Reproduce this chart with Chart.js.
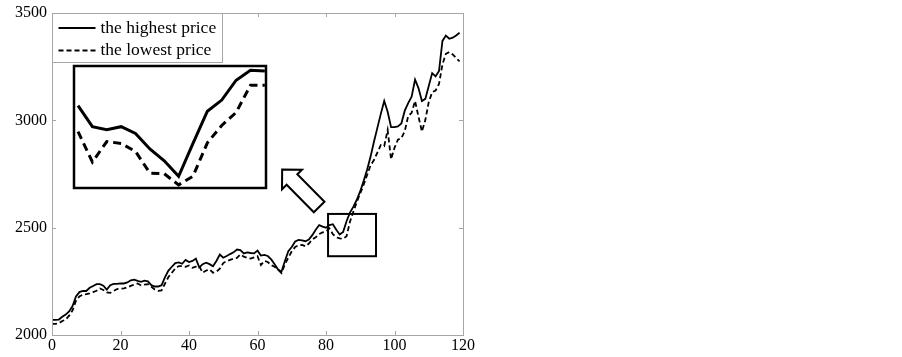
<!DOCTYPE html>
<html><head><meta charset="utf-8">
<script src="https://cdn.jsdelivr.net/npm/chart.js@4.4.1/dist/chart.umd.min.js"></script>
<style>
html,body{margin:0;padding:0;background:#fff;}
#wrap{position:relative;width:902px;height:357px;overflow:hidden;}
#main{position:absolute;left:0;top:0;}
#inset{position:absolute;left:72px;top:64px;}
</style></head><body>
<div id="wrap"><canvas id="main" width="902" height="357"></canvas><canvas id="inset" width="196" height="126"></canvas></div>
<script>
// ---- data ----
const seriesNames = ['the highest price', 'the lowest price'];
const days = Array.from({length: 120}, (_, i) => i);
const highPrice = [
 2070,2070,2072,2085,2095,2110,2135,2180,2200,2205,
 2205,2220,2228,2237,2237,2230,2212,2232,2238,2238,
 2240,2240,2245,2255,2258,2252,2248,2253,2250,2232,
 2226,2226,2232,2270,2300,2318,2335,2338,2332,2350,
 2340,2345,2356,2315,2330,2337,2330,2320,2345,2375,
 2360,2368,2377,2385,2398,2395,2380,2385,2382,2380,
 2393,2370,2373,2368,2352,2330,2305,2295,2345,2390,
 2410,2436,2443,2441,2437,2445,2465,2490,2512,2505,
 2500,2512,2516,2490,2468,2480,2530,2570,2598,2630,
 2670,2718,2770,2830,2900,2965,3030,3090,3040,2968,
 2968,2972,2985,3045,3080,3110,3190,3150,3090,3100,
 3160,3220,3205,3230,3370,3395,3380,3385,3395,3408
];
const lowPrice = [
 2052,2052,2055,2065,2072,2090,2115,2160,2180,2188,
 2190,2194,2200,2206,2217,2210,2198,2196,2205,2214,
 2215,2217,2222,2229,2235,2240,2231,2235,2237,2225,
 2212,2206,2208,2240,2270,2290,2310,2321,2321,2318,
 2324,2313,2318,2321,2290,2300,2306,2290,2295,2309,
 2335,2344,2350,2355,2359,2375,2365,2359,2356,2362,
 2367,2326,2345,2340,2325,2318,2305,2288,2330,2360,
 2390,2410,2418,2420,2413,2426,2445,2455,2470,2478,
 2482,2497,2470,2455,2450,2448,2460,2528,2575,2620,
 2660,2700,2745,2790,2815,2850,2885,2880,2955,2818,
 2872,2910,2917,2950,3020,3035,3090,3017,2948,3001,
 3085,3131,3139,3170,3260,3310,3318,3307,3290,3275
];
// magnified detail shown in the inset
const insetSteps = [0,1,2,3,4,5,6,7,8,9,10,11,12,13];
const insetHigh = [2500,2466,2461,2466,2455,2430,2411,2386,2439,2491,2509,2541,2557,2556];
const insetLow  = [2458,2409,2442,2439,2426,2391,2390,2372,2386,2440,2468,2489,2533,2533];
const xTicks = [0,20,40,60,80,100,120];
const yTicks = [2000,2500,3000,3500];

// annotation placement in data units
const zoomBox = {x0: 80.6, x1: 94.6, y0: 2367, y1: 2564};
const arrow = {tailX: 78, tailY: 2596, tipX: 67.2, tipY: 2771};

const FONT = "'Liberation Serif','Times New Roman',serif";
const AXIS_GRAY = '#a6a6a6';

const framePlugin = {
  id: 'frame',
  afterDraw(chart) {
    const ctx = chart.ctx;
    const {left, right, top, bottom} = chart.chartArea;
    const xs = chart.scales.x, ys = chart.scales.y;
    ctx.save();
    // axes box
    ctx.strokeStyle = AXIS_GRAY;
    ctx.lineWidth = 1;
    ctx.strokeRect(Math.round(left) + 0.5, Math.round(top) + 0.5, Math.round(right - left), Math.round(bottom - top));
    // inward ticks
    ctx.beginPath();
    xTicks.forEach(v => {
      const px = Math.round(xs.getPixelForValue(v)) + 0.5;
      ctx.moveTo(px, bottom); ctx.lineTo(px, bottom - 4);
      ctx.moveTo(px, top); ctx.lineTo(px, top + 4);
    });
    yTicks.forEach(v => {
      const py = Math.round(ys.getPixelForValue(v)) + 0.5;
      ctx.moveTo(left, py); ctx.lineTo(left + 4, py);
      ctx.moveTo(right, py); ctx.lineTo(right - 4, py);
    });
    ctx.stroke();

    // legend
    const lx = Math.round(left) + 0.5, ly = Math.round(top) + 0.5;
    ctx.fillStyle = '#fff';
    ctx.fillRect(lx, ly, 170, 49);
    ctx.strokeStyle = AXIS_GRAY;
    ctx.strokeRect(lx, ly, 170, 49);
    ctx.strokeStyle = '#000';
    ctx.lineWidth = 2;
    const rows = [ly + 14.5, ly + 37];
    [[], [5, 3]].forEach((dash, k) => {
      ctx.setLineDash(dash);
      ctx.beginPath();
      ctx.moveTo(lx + 6, rows[k]); ctx.lineTo(lx + 43, rows[k]);
      ctx.stroke();
    });
    ctx.setLineDash([]);
    ctx.fillStyle = '#000';
    ctx.font = '17.5px ' + FONT;
    ctx.textBaseline = 'middle';
    ctx.textAlign = 'left';
    seriesNames.forEach((t, k) => ctx.fillText(t, lx + 48, rows[k]));

    // zoom box
    ctx.lineWidth = 2;
    const bx0 = xs.getPixelForValue(zoomBox.x0), bx1 = xs.getPixelForValue(zoomBox.x1);
    const by0 = ys.getPixelForValue(zoomBox.y1), by1 = ys.getPixelForValue(zoomBox.y0);
    ctx.strokeRect(bx0, by0, bx1 - bx0, by1 - by0);

    // hollow arrow
    const tx = xs.getPixelForValue(arrow.tailX), ty = ys.getPixelForValue(arrow.tailY);
    const hx = xs.getPixelForValue(arrow.tipX), hy = ys.getPixelForValue(arrow.tipY);
    const len = Math.hypot(hx - tx, hy - ty);
    const dx = (hx - tx) / len, dy = (hy - ty) / len;
    const nx = -dy, ny = dx;
    const headLen = 14, headHalf = 14, shaftHalf = 7.5;
    const bxm = hx - dx * headLen, bym = hy - dy * headLen;
    const pts = [
      [tx + nx * shaftHalf, ty + ny * shaftHalf],
      [bxm + nx * shaftHalf, bym + ny * shaftHalf],
      [bxm + nx * headHalf, bym + ny * headHalf],
      [hx, hy],
      [bxm - nx * headHalf, bym - ny * headHalf],
      [bxm - nx * shaftHalf, bym - ny * shaftHalf],
      [tx - nx * shaftHalf, ty - ny * shaftHalf]
    ];
    ctx.beginPath();
    pts.forEach((p, i) => i ? ctx.lineTo(p[0], p[1]) : ctx.moveTo(p[0], p[1]));
    ctx.closePath();
    ctx.fillStyle = '#fff';
    ctx.fill();
    ctx.lineJoin = 'miter';
    ctx.stroke();
    ctx.restore();
  }
};

const plainLabel = v => String(v);

new Chart(document.getElementById('main'), {
  type: 'line',
  data: {
    datasets: [
      {label: seriesNames[0], data: days.map((d, i) => ({x: d, y: highPrice[i]})),
       borderColor: '#000', borderWidth: 1.8, pointRadius: 0, tension: 0, fill: false},
      {label: seriesNames[1], data: days.map((d, i) => ({x: d, y: lowPrice[i]})),
       borderColor: '#000', borderWidth: 1.8, borderDash: [5, 3], pointRadius: 0, tension: 0, fill: false}
    ]
  },
  options: {
    responsive: false, animation: false, devicePixelRatio: 1,
    layout: {padding: {top: 8, right: 439, left: 0, bottom: 0}},
    plugins: {legend: {display: false}, tooltip: {enabled: false}},
    scales: {
      x: {type: 'linear', min: 0, max: 120,
          afterBuildTicks(s) { s.ticks = xTicks.map(v => ({value: v})); },
          ticks: {color: '#000', padding: 3, maxRotation: 0, callback: plainLabel,
                  font: {family: FONT, size: 16, lineHeight: 1}},
          grid: {display: false, drawTicks: false}, border: {display: false},
          afterFit(s) { s.height = 22; }},
      y: {type: 'linear', min: 2000, max: 3500,
          afterBuildTicks(s) { s.ticks = yTicks.map(v => ({value: v})); },
          ticks: {color: '#000', padding: 5, callback: plainLabel,
                  font: {family: FONT, size: 16, lineHeight: 1}},
          grid: {display: false, drawTicks: false}, border: {display: false},
          afterFit(s) { s.width = 52; }}
    }
  },
  plugins: [framePlugin]
});

const insetFrame = {
  id: 'insetFrame',
  beforeDraw(chart) {
    const c = chart.ctx; c.save(); c.fillStyle = '#fff';
    c.fillRect(0, 0, chart.width, chart.height); c.restore();
  },
  afterDraw(chart) {
    const {left, right, top, bottom} = chart.chartArea;
    const c = chart.ctx; c.save();
    c.strokeStyle = '#000'; c.lineWidth = 2.5;
    c.strokeRect(left, top, right - left, bottom - top);
    c.restore();
  }
};

new Chart(document.getElementById('inset'), {
  type: 'line',
  data: {
    datasets: [
      {data: insetSteps.map((s, i) => ({x: s, y: insetHigh[i]})), borderColor: '#000', borderWidth: 3,
       pointRadius: 0, tension: 0, fill: false},
      {data: insetSteps.map((s, i) => ({x: s, y: insetLow[i]})), borderColor: '#000', borderWidth: 3,
       borderDash: [8, 5], pointRadius: 0, tension: 0, fill: false}
    ]
  },
  options: {
    responsive: false, animation: false, devicePixelRatio: 1,
    layout: {padding: 2},
    plugins: {legend: {display: false}, tooltip: {enabled: false}},
    scales: {
      x: {type: 'linear', display: false, min: -0.28, max: 13.08},
      y: {type: 'linear', display: false, min: 2367, max: 2564}
    }
  },
  plugins: [insetFrame]
});
</script>
</body></html>
